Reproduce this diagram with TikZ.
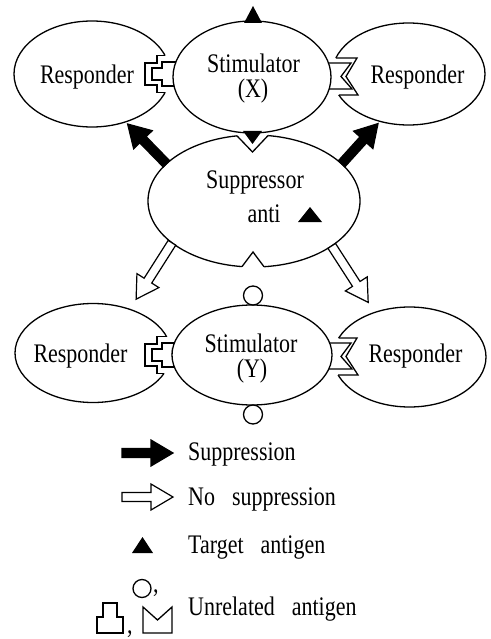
\documentclass[tikz,border=0pt]{standalone}
\usepackage{fontspec}
\setmainfont[FakeStretch=0.82]{Liberation Serif}
\usetikzlibrary{shapes.geometric,calc}

\tikzset{
  cell/.style={ellipse,draw,fill=white,line width=1.3pt,inner sep=0pt,outer sep=0pt},
  site/.style={line width=1.3pt,line join=miter},
  arrowbody/.style={line width=1.2pt,line join=miter},
  lbl/.style={anchor=base,inner sep=0pt},
  lgd/.style={anchor=base west,inner sep=0pt,font={\fontsize{26.8}{25}\selectfont\spaceskip 17pt\relax}},
}

\begin{document}
\begin{tikzpicture}[x=1pt,y=-1pt,line join=round,font=\fontsize{26.8}{25}\selectfont]
\useasboundingbox (0,0) rectangle (490,639);
% Responder
\node[cell,minimum width=156pt,minimum height=106pt] (rx1) at (92,74) {};
\node[cell,minimum width=153pt,minimum height=102pt] (rx2) at (408.5,74) {};
\node[cell,minimum width=156pt,minimum height=99pt] (ry1) at (93,353) {};
\node[cell,minimum width=153pt,minimum height=100pt] (ry2) at (409.5,357) {};
% Rezeptor-Taschen freiraeumen
\fill[white] (158,55.5) rectangle (171,92.5) (331,58) rectangle (345,95)
  (158,336.5) rectangle (171.7,373.5) (332,338) rectangle (345,375);
% Stimulator und Suppressor
\node[cell,minimum width=158pt,minimum height=112pt] (sx) at (252,77) {};
\node[cell,minimum width=160pt,minimum height=100pt] (sy) at (252,355) {};
\node[cell,minimum width=212pt,minimum height=132pt] (sup) at (254,201) {};
\fill[white] (237,133.8) rectangle (268,140) (242,262) rectangle (264,268);
% Rezeptoren (aussen) und Antigene (innen)
\draw[site] (165.1,55.5) -- (157,55.5) -- (157,63) -- (145,63) -- (145,85) -- (157,85) -- (157,92.5) -- (165.1,92.5);
\draw[site] (175.9,62) -- (162,62) -- (162,68) -- (152,68) -- (152,80) -- (162,80) -- (162,86) -- (174.0,86);
\draw[site] (335.9,58) -- (357,58) -- (346,76.5) -- (358,95) -- (338.8,95);
\draw[site] (328.5,63) -- (351,63) -- (341,76.5) -- (352,89) -- (329.2,89);
\draw[site] (166.5,336.5) -- (157,336.5) -- (157,344) -- (145,344) -- (145,366) -- (157,366) -- (157,373.5) -- (164.0,373.5);
\draw[site] (174.3,343) -- (162,343) -- (162,349) -- (152,349) -- (152,361) -- (162,361) -- (162,367) -- (174.3,367);
\draw[site] (338.7,338) -- (357,338) -- (346,356.5) -- (358,375) -- (338.1,375);
\draw[site] (329.7,343) -- (351,343) -- (341,356.5) -- (352,369) -- (328.8,369);
\draw[site] (237,135.85) -- (252.5,152) -- (268,135.58);
\draw[site] (242,266.6) -- (253,252) -- (264,266.7);
% Zielantigen und fremde Antigene
\fill (244,23) -- (262,23) -- (253,6) -- cycle;
\fill (243,131) -- (262,131) -- (252.5,144) -- cycle;
\fill (298,222) -- (322,222) -- (310,207) -- cycle;
\draw[site,fill=white] (253,295.5) circle (9.5pt);
\draw[site,fill=white] (253,414.5) circle (9.5pt);
% Legende
\coordinate (lg1a) at (122,453); \coordinate (lg1b) at (173,453);
\coordinate (lg2a) at (122,497); \coordinate (lg2b) at (173,497);
% Pfeile
\foreach \a/\b/\s/\f in {sup.157/rx1.-55/3pt/black, sup.23/rx2.-121/3pt/black, sup.-153/ry1.50/12pt/white, sup.-30/ry2.128/12pt/white, lg1a/lg1b/0pt/black, lg2a/lg2b/0pt/white}{
  \coordinate (tip) at ($(\b)!\s!(\a)$);
  \coordinate (hb) at ($(tip)!22pt!(\a)$);
  \draw[arrowbody,fill=\f] ($(\a)!4.5pt!-90:(tip)$) -- ($(hb)!4.5pt!-90:(tip)$) -- ($(hb)!13pt!-90:(tip)$) -- (tip)
    -- ($(hb)!13pt!90:(tip)$) -- ($(hb)!4.5pt!90:(tip)$) -- ($(\a)!4.5pt!90:(tip)$) -- cycle;
}
% Beschriftung
\node[lbl] (trx1) at (87,83.5) {Responder};
\node[lbl] (trx2) at (417.5,83.5) {Responder};
\node[lbl] (tsx1) at (253.5,72.5) {Stimulator};
\node[lbl] (tsx2) at (253,97.5) {(X)};
\node[lbl] (try1) at (80.5,362.5) {Responder};
\node[lbl] (try2) at (415.5,362.5) {Responder};
\node[lbl] (tsy1) at (251,352) {Stimulator};
\node[lbl] (tsy2) at (252,377) {(Y)};
\node[lbl] (tsup1) at (255,188) {Suppressor};
\node[lbl] (tsup2) at (264,222) {anti};
\fill (132,553) -- (153,553) -- (142.5,537) -- cycle;
\draw[site] (142,588.5) circle (9pt);
\draw[site] (97,633) -- (97,617) -- (103,617) -- (103,603) -- (117,603) -- (117,617) -- (123,617) -- (123,633) -- cycle;
\draw[site] (143,607) -- (157.5,620) -- (172,607) -- (172,633) -- (143,633) -- cycle;
\node[lgd] (lgc1) at (153,592) {,};
\node[lgd] (lgc2) at (127,633) {,};
\node[lgd] (lgt1) at (188,460) {Suppression};
\node[lgd] (lgt2) at (188,505) {No suppression};
\node[lgd] (lgt3) at (188,553) {Target antigen};
\node[lgd] (lgt4) at (188,615) {Unrelated antigen};
\end{tikzpicture}
\end{document}
